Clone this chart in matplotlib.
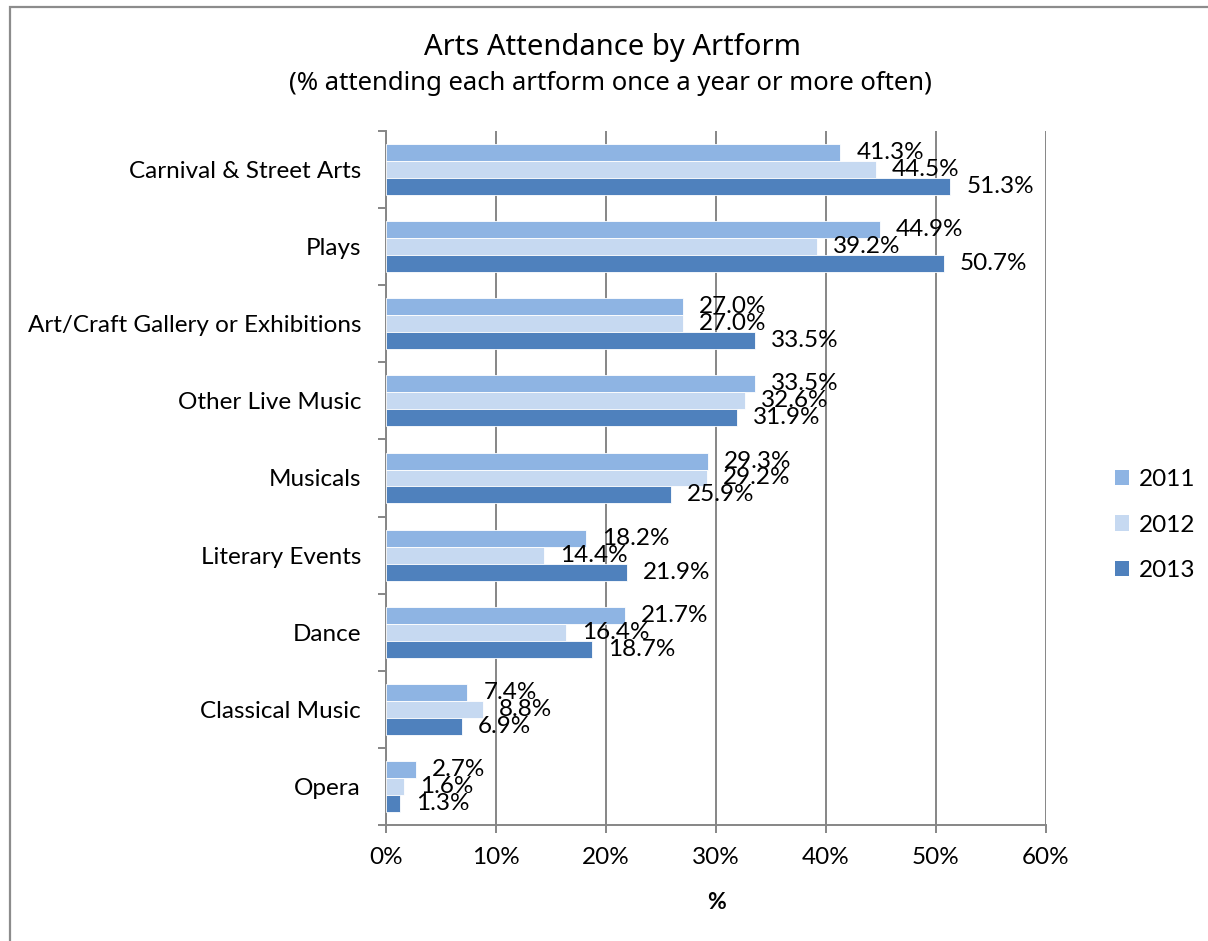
import numpy as np
import matplotlib
matplotlib.use("Agg")
import matplotlib.pyplot as plt
from matplotlib.patches import Rectangle, Patch

# attendance data (% attending once a year or more often)
categories = ["Carnival & Street Arts", "Plays", "Art/Craft Gallery or Exhibitions",
              "Other Live Music", "Musicals", "Literary Events", "Dance",
              "Classical Music", "Opera"]
years = ["2011", "2012", "2013"]
att_2011 = [41.3, 44.9, 27.0, 33.5, 29.3, 18.2, 21.7, 7.4, 2.7]
att_2012 = [44.5, 39.2, 27.0, 32.6, 29.2, 14.4, 16.4, 8.8, 1.6]
att_2013 = [51.3, 50.7, 33.5, 31.9, 25.9, 21.9, 18.7, 6.9, 1.3]
xticks = [0, 10, 20, 30, 40, 50, 60]

colors = ["#8EB4E3", "#C6D9F1", "#4F81BD"]
grid_col = "#868686"
body_font = "Lato"
fs = 17.5

fig = plt.figure(figsize=(12.08, 9.41), dpi=100)
ax = fig.add_axes([386 / 1208, 1 - 825 / 941, 660 / 1208, 694 / 941])

y = np.arange(len(categories))
h = 0.22
series = [att_2011, att_2012, att_2013]
for i, (vals, col, yr) in enumerate(zip(series, colors, years)):
    pos = y + (i - 1) * h
    ax.barh(pos, vals, height=h, color=col, edgecolor="white",
            linewidth=0.6, label=yr, zorder=3)
    for yy, v in zip(pos, vals):
        ax.annotate(f"{v:.1f}%", (v, yy), xytext=(11.5, 0),
                    textcoords="offset points", ha="left", va="center",
                    fontsize=fs, family=body_font, color="black", zorder=5)

ax.set_xlim(0, 60)
ax.set_ylim(len(categories) - 0.5, -0.5)
ax.set_xticks(xticks)
ax.set_xticklabels([f"{t}%" for t in xticks], fontsize=fs, family=body_font)
ax.set_yticks(y)
ax.set_yticklabels(categories, fontsize=fs, family=body_font)
ax.set_yticks(np.arange(-0.5, len(categories)), minor=True)
ax.tick_params(axis="y", which="major", length=0, pad=18)
ax.tick_params(axis="y", which="minor", length=6, width=1.4, color=grid_col)
ax.tick_params(axis="x", length=6, width=1.4, color=grid_col, pad=10)

ax.grid(axis="x", color=grid_col, linewidth=1.4, zorder=0)
ax.set_axisbelow(True)
for side in ["top", "right"]:
    ax.spines[side].set_visible(False)
for side in ["left", "bottom"]:
    ax.spines[side].set_color(grid_col)
    ax.spines[side].set_linewidth(1.4)

ax.set_xlabel("%", fontsize=fs - 1, family=body_font, fontweight="bold", labelpad=17)

fig.text(612 / 1208, 1 - 47 / 941, "Arts Attendance by Artform", ha="center",
         va="center", fontsize=21, family="Noto Sans")
fig.text(610 / 1208, 1 - 83 / 941,
         "(% attending each artform once a year or more often)", ha="center",
         va="center", fontsize=18.5, family="Noto Sans")

handles = [Patch(facecolor=c, edgecolor="none") for c in colors]
fig.legend(handles, years, loc="center left",
           bbox_to_anchor=(1093 / 1208, 1 - 525 / 941), frameon=False,
           prop={"family": body_font, "size": fs}, handlelength=0.6,
           handleheight=0.6, handletextpad=0.4, labelspacing=1.0)

# chart border
fig.patches.append(Rectangle((10 / 1208, -0.2), 1.2, 1.2 - 7 / 941,
                             transform=fig.transFigure, fill=False,
                             edgecolor="#8C8C8C", linewidth=1.6))

fig.savefig("out.png", dpi=100)
